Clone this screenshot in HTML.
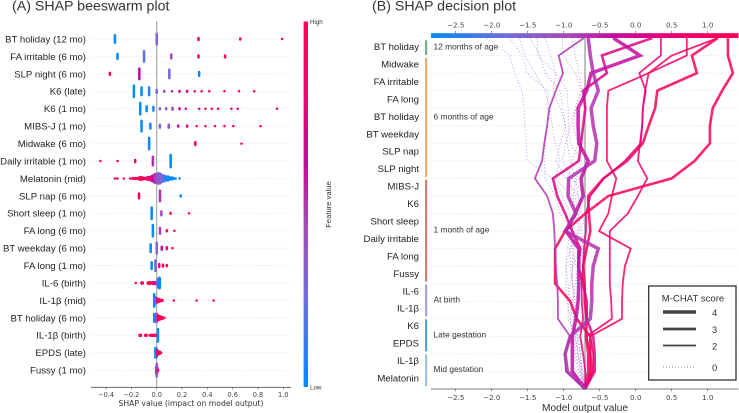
<!DOCTYPE html>
<html lang="en">
<head>
<meta charset="utf-8">
<title>SHAP beeswarm and decision plots</title>
<style>
html,body{margin:0;padding:0;background:#fff;width:739px;height:413px;overflow:hidden}
svg{display:block}
text{font-family:"Liberation Sans",sans-serif;fill:#333}
.tick{font-family:"DejaVu Sans",sans-serif;font-size:6.6px;fill:#444;text-anchor:middle}
.tickr{font-family:"DejaVu Sans",sans-serif;font-size:7.2px;fill:#444;text-anchor:middle}
.axt{font-family:"DejaVu Sans",sans-serif;font-size:7.7px;fill:#333;text-anchor:middle}
.rowl{font-size:9.6px;text-anchor:end;fill:#222}
.grp{font-size:8.4px;fill:#333}
</style>
</head>
<body>
<svg id="chart" xmlns="http://www.w3.org/2000/svg" width="739" height="413" viewBox="0 0 739 413">
  <defs>
    <linearGradient id="gradV" x1="0" y1="1" x2="0" y2="0">
      <stop offset="0" stop-color="#008bfb"/><stop offset=".25" stop-color="#6f6de0"/><stop offset=".45" stop-color="#a848b8"/><stop offset=".6" stop-color="#c30aa0"/><stop offset=".8" stop-color="#f00070"/><stop offset="1" stop-color="#ff0051"/>
    </linearGradient>
    <linearGradient id="gradH" x1="0" y1="0" x2="1" y2="0">
      <stop offset="0" stop-color="#008bfb"/><stop offset=".25" stop-color="#6f6de0"/><stop offset=".45" stop-color="#a848b8"/><stop offset=".6" stop-color="#c30aa0"/><stop offset=".8" stop-color="#f00070"/><stop offset="1" stop-color="#ff0051"/>
    </linearGradient>
  </defs>

  <text x="12" y="10.5" font-size="14.2" fill="#222">(A) SHAP beeswarm plot</text>
  <text x="372" y="10.5" font-size="14.2" fill="#222">(B) SHAP decision plot</text>

  <g id="beeGrid"></g>
  <line x1="156.7" x2="156.7" y1="21" y2="387" stroke="#999" stroke-width="1"/>
  <g id="bee"></g>
  <g id="beeLabels"></g>
  <line x1="91" x2="291" y1="387.3" y2="387.3" stroke="#555" stroke-width=".8"/>
  <g id="beeTicks"></g>
  <text class="axt" x="191" y="406">SHAP value (impact on model output)</text>

  <rect x="303.6" y="21.5" width="4.4" height="365.5" fill="url(#gradV)"/>
  <text x="310" y="24" font-size="6.2" font-family="DejaVu Sans" fill="#333">High</text>
  <text x="310" y="389.5" font-size="6.2" font-family="DejaVu Sans" fill="#333">Low</text>
  <text transform="translate(331,204.5) rotate(-90)" font-size="7.6" font-family="DejaVu Sans" text-anchor="middle" fill="#333">Feature value</text>

  <g id="decGrid"></g>
  <rect x="431" y="33.2" width="307.5" height="4.8" fill="url(#gradH)"/>
  <line x1="585" x2="585" y1="38" y2="389" stroke="#aaa" stroke-width="1.5"/>
  <g id="decDots"></g>
  <g id="decLines"></g>
  <g id="decLabels"></g>
  <g id="stages"></g>
  <line x1="431" x2="738.5" y1="389" y2="389" stroke="#555" stroke-width=".8"/>
  <g id="decTicks"></g>
  <text x="585" y="411" font-family="DejaVu Sans" font-size="10.2" text-anchor="middle" fill="#333">Model output value</text>

  <g>
    <rect x="648.7" y="286" width="87.3" height="94" fill="#fff" stroke="#222" stroke-width="1.2"/>
    <text x="693" y="301.5" font-size="9.6" font-family="DejaVu Sans" text-anchor="middle" fill="#333">M-CHAT score</text>
    <line x1="663" x2="696" y1="312" y2="312" stroke="#444" stroke-width="3.6"/>
    <line x1="663" x2="696" y1="329" y2="329" stroke="#444" stroke-width="2.7"/>
    <line x1="663" x2="696" y1="345.5" y2="345.5" stroke="#444" stroke-width="1.8"/>
    <line x1="663" x2="696" y1="367" y2="367" stroke="#888" stroke-width=".9" stroke-dasharray="1 2"/>
    <text x="712" y="316" font-size="9.4" font-family="DejaVu Sans" fill="#333">4</text>
    <text x="712" y="333" font-size="9.4" font-family="DejaVu Sans" fill="#333">3</text>
    <text x="712" y="349.5" font-size="9.4" font-family="DejaVu Sans" fill="#333">2</text>
    <text x="712" y="371" font-size="9.4" font-family="DejaVu Sans" fill="#333">0</text>
  </g>
</svg>

<script>
const beeLabelsData = ["BT holiday (12 mo)","FA irritable (6 mo)","SLP night (6 mo)","K6 (late)","K6 (1 mo)","MIBS-J (1 mo)","Midwake (6 mo)","Daily irritable (1 mo)","Melatonin (mid)","SLP nap (6 mo)","Short sleep (1 mo)","FA long (6 mo)","BT weekday (6 mo)","FA long (1 mo)","IL-6 (birth)","IL-1\u03b2 (mid)","BT holiday (6 mo)","IL-1\u03b2 (birth)","EPDS (late)","Fussy (1 mo)"];
const beeTickValues = [-0.4,-0.2,0,0.2,0.4,0.6,0.8,1.0];
// each point group: [SHAP value, feature value 0..1, stacked sample count]
const beeGroups = [
[[-.33,0,9],[0,.28,12],[.33,.8,3],[.66,1,2],[.99,1,1]],
[[-.31,0,6],[-.10,.2,12],[.115,.45,5],[.33,.85,3],[.54,1,3]],
[[-.37,.95,3],[-.137,.6,12],[.10,.28,10],[.335,0,5]],
[[-.18,0,13],[-.12,0,9],[-.06,.08,9],[0,.3,4],[.06,.42,2],[.12,.55,1],[.18,.65,2],[.24,.78,2],[.30,.85,1],[.355,.9,1],[.415,.95,1],[.535,1,1],[.65,1,1],[.77,1,1]],
[[-.13,0,13],[-.08,0,6],[-.026,.1,5],[.025,.28,2],[.075,.38,2],[.125,.45,3],[.18,.6,2],[.23,.7,1],[.335,.85,1],[.385,.9,1],[.435,.95,1],[.485,.95,1],[.59,1,1],[.64,1,1],[.95,1,1]],
[[-.12,0,12],[-.05,.05,6],[.025,.28,4],[.095,.4,4],[.17,.58,2],[.24,.72,2],[.315,.85,1],[.385,.9,1],[.46,.95,1],[.535,1,1],[.605,1,1],[.82,1,1]],
[[-.06,.03,13],[.305,.95,4],[.67,1,1]],
[[-.445,1,1],[-.31,1,1],[-.17,1,3],[-.03,.5,10],[.11,0,14]],
[[-.33,1,1],[-.31,1,1],[-.26,1,1],[-.21,1,1],[-.19,1,2],[-.17,1,2],[-.155,1,2],[-.14,.95,3],[-.125,.95,4],[-.11,.95,3],[-.095,.95,2],[-.08,.9,3],[-.065,.85,4],[-.05,.75,4],[-.04,.7,6],[-.025,.6,8],[-.015,.5,10],[0,.4,11],[.015,.35,12],[.03,.3,11],[.045,.25,8],[.06,.15,7],[.075,.08,5],[.09,.03,5],[.105,0,3],[.12,0,3],[.135,0,2],[.15,0,1],[.18,0,1]],
[[-.14,.95,6],[.026,.5,12],[.19,0,2]],
[[-.04,0,13],[.037,.42,5],[.11,.9,2],[.255,1,1]],
[[-.03,0,13],[.026,.48,7],[.08,.85,2],[.14,1,1]],
[[-.048,0,9],[0,.3,12],[.04,.65,4],[.08,.85,3],[.125,1,1]],
[[-.04,0,8],[-.01,.3,12],[.02,.8,4],[.05,.9,3],[.08,1,2]],
[[-.165,1,1],[-.12,1,2],[-.11,1,2],[-.07,.95,2],[-.055,.95,3],[-.045,.9,2],[-.03,.8,3],[-.015,.6,3],[0,.4,4],[.01,.2,10],[.02,.05,12],[.025,0,11]],
[[-.02,0,14],[-.01,.1,8],[.005,.9,5],[.015,1,4],[.025,1,3],[.035,1,2],[.045,1,2],[.135,1,1],[.315,1,1],[.45,1,1]],
[[-.02,0,9],[-.01,.1,9],[0,.4,10],[.01,.8,6],[.02,.95,5],[.03,1,4],[.04,1,3],[.05,1,2],[.06,1,1]],
[[-.135,1,2],[-.125,1,2],[-.09,1,2],[-.08,1,2],[-.055,1,1],[-.045,.95,2],[-.035,.95,2],[-.025,.95,2],[-.015,.9,2],[-.005,.8,2],[.01,.02,14]],
[[-.01,0,11],[0,.15,10],[.005,.9,6],[.015,1,4],[.025,1,3],[.035,1,1]],
[[-.005,.2,8],[0,.35,14],[.005,.5,6],[.01,1,2]]
];

const decLabelsData = ["BT holiday","Midwake","FA irritable","FA long","BT holiday","BT weekday","SLP nap","SLP night","MIBS-J","K6","Short sleep","Daily irritable","FA long","Fussy","IL-6","IL-1\u03b2","K6","EPDS","IL-1\u03b2","Melatonin"];
const decTickValues = [-2.5,-2.0,-1.5,-1.0,-0.5,0,0.5,1.0];
const decScores = [3,3,2,2,2,3,4,4,2];
// model output at each gridline, from the top of the plot to the base value at the bottom
const decSeries = [
[1.28,1.28,1.35,1.20,1.07,1.03,1.03,.82,.50,-.38,-.70,-.98,-1.12,-1.12,-1.12,-.91,-.82,-.63,-.63,-.61,-.70],
[1.14,.78,.85,.30,.27,.18,.10,-.12,-.45,-.66,-.65,-.63,-.68,-.73,-.71,-.71,-.68,-.69,-.66,-.66,-.70],
[1.14,.50,.18,-.38,-.40,-.40,-.40,-.40,-.27,-.33,-.38,-.51,-.07,-.15,-.18,-.19,-.19,-.63,-.59,-.59,-.70],
[.71,.71,.18,.13,.10,.09,.06,.03,.16,.03,-.11,-.36,-.36,-.36,-.36,-.34,-.33,-.68,-.63,-.63,-.70],
[.35,.35,.05,.14,.10,.09,.07,-.15,-.44,-.63,-.69,-.69,-.72,-.73,-.75,-.75,-.73,-.77,-.73,-.70,-.70],
[.23,-.47,-.40,-.73,-.70,-.73,-.76,-.79,-1.15,-1.09,-.98,-.88,-.77,-.80,-.73,-.68,-.68,-.59,-.57,-.57,-.70],
[-.31,.06,-.62,-.68,-.80,-.80,-.79,-.66,-.76,-.73,-.84,-.97,-.79,-.79,-.79,-.80,-.83,-.88,-.88,-.88,-.70],
[-.66,-.63,-.59,-.52,-.62,-.59,-.54,-.57,-.93,-.94,-.83,-.98,-.52,-.59,-.61,-.61,-.63,-.91,-.98,-.95,-.70],
[-.72,-1.07,-1.01,-1.11,-1.20,-1.23,-1.27,-1.30,-1.40,-1.23,-1.15,-1.13,-1.12,-1.11,-1.09,-1.08,-1.08,-.91,-.98,-.97,-.70]
];
const decDotted = [
[-2.07,-1.75,-1.68,-1.58,-1.55,-1.54,-1.52,-1.51,-1.15,-1.02,-.91,-.91,-.95,-.97,-.94,-.91,-.87,-.81,-.77,-.74,-.70],
[-1.75,-1.57,-1.51,-1.22,-1.22,-1.23,-1.25,-1.27,-1.26,-1.12,-1.05,-.88,-.84,-.88,-.88,-.86,-.86,-.84,-.80,-.77,-.70],
[-1.47,-1.33,-1.26,-1.05,-1.01,-.98,-.95,-.91,-.84,-.80,-.77,-.91,-.88,-.83,-.82,-.80,-.80,-.77,-.76,-.75,-.70],
[-1.26,-1.18,-1.11,-.95,-.94,-.93,-.91,-.75,-.82,-.87,-.84,-.80,-.87,-.88,-.87,-.84,-.82,-.80,-.77,-.76,-.70],
[-.88,-.84,-.79,-.75,-.83,-.87,-.80,-.88,-.95,-.84,-.80,-.75,-.73,-.80,-.84,-.88,-.91,-.84,-.80,-.77,-.70],
[-1.37,-1.36,-1.11,-1.15,-1.05,-.97,-1.05,-1.11,-.97,-.79,-.75,-.69,-.77,-.87,-.91,-.94,-.94,-.81,-.81,-.73,-.70],
[-1.02,-1.01,-.84,-.76,-.84,-.91,-.97,-1.02,-.88,-.70,-.63,-.80,-.91,-.91,-.88,-.84,-.84,-.86,-.83,-.79,-.70],
[-1.61,-1.54,-1.40,-1.26,-1.19,-1.16,-1.12,-1.05,-1.12,-.88,-.83,-.77,-.91,-.97,-.97,-.95,-.91,-.88,-.85,-.80,-.70]
];
const stageNames = ["12 months of age","6 months of age","1 month of age","At birth","Late gestation","Mid gestation"];
const stageFirstRow = [0,1,8,14,16,18];
const stageLastRow = [0,7,13,15,17,19];
const stageColors = ["#6fb08f","#e8ad72","#cf7f74","#a9a5d8","#5ba0d0","#9fc4d8"];

const NS = "http://www.w3.org/2000/svg";
const gradStops = [[0,[0,139,251]],[.25,[111,109,224]],[.45,[168,72,184]],[.6,[195,10,160]],[.8,[240,0,112]],[1,[255,0,81]]];
function mapColor(t){
  t = Math.max(0, Math.min(1, t));
  for (let i = 1; i < gradStops.length; i++) {
    if (t <= gradStops[i][0]) {
      const a = gradStops[i-1], b = gradStops[i];
      const f = (t - a[0]) / (b[0] - a[0]);
      const c = a[1].map((v, k) => Math.round(v + (b[1][k] - v) * f));
      return "rgb(" + c.join(",") + ")";
    }
  }
  return "rgb(255,0,81)";
}
function mk(tag, parent, attrs){
  const el = document.createElementNS(NS, tag);
  for (const k in attrs) el.setAttribute(k, attrs[k]);
  parent.appendChild(el);
  return el;
}
const byId = id => document.getElementById(id);

// axis functions
const beeX = v => 156.7 + v * 126.6;
const beeY = i => 39 + i * 17.43;
const decX = v => 635.7 + v * 72;
const decGridY = i => 38 + i * 17.55;
const decLabelY = i => 46.7 + i * 17.44;
const decColorT = v => (decX(v) - 431) / 307.5;

beeLabelsData.forEach((name, i) => {
  const g = mk("line", byId("beeGrid"), {x1:91, x2:291, y1:beeY(i), y2:beeY(i), stroke:"#ddd", "stroke-width":.7, "stroke-dasharray":"1 1.5"});
  
  
  const t = mk("text", byId("beeLabels"), {x:86, y:beeY(i) + 3.4, class:"rowl"});
  t.textContent = name;
  
  
  beeGroups[i].forEach(gr => {
    const n = gr[2];
    for (let k = 0; k < n; k++) {
      const c = mk("circle", byId("bee"), {cx:beeX(gr[0]), cy:beeY(i) + (k - (n - 1) / 2) * 0.95, r:1.25, fill:mapColor(gr[1])});
      
      
    }
  });
});
beeTickValues.forEach(v => {
  const l = mk("line", byId("beeTicks"), {x1:beeX(v), x2:beeX(v), y1:387.3, y2:389.5, stroke:"#555", "stroke-width":.6});
  
  
  const t = mk("text", byId("beeTicks"), {x:beeX(v), y:397, class:"tick"});
  t.textContent = (v < 0 ? "\u2212" : "") + Math.abs(v).toFixed(1);
  
  
});

for (let i = 1; i < 21; i++) {
  const g = mk("line", byId("decGrid"), {x1:431, x2:738.5, y1:decGridY(i), y2:decGridY(i), stroke:"#ddd", "stroke-width":.7, "stroke-dasharray":"1 1.5"});
  
  
}
decLabelsData.forEach((name, i) => {
  const t = mk("text", byId("decLabels"), {x:419, y:decLabelY(i) + 3.4, class:"rowl"});
  t.textContent = name;
  
  
});
stageNames.forEach((name, i) => {
  const y0 = decLabelY(stageFirstRow[i]) - 6.4;
  const y1 = decLabelY(stageLastRow[i]) + 8.2;
  const r = mk("rect", byId("stages"), {x:425, y:y0, width:2.2, height:y1 - y0, fill:stageColors[i]});
  
  
  const ym = (decLabelY(stageFirstRow[i]) + decLabelY(stageLastRow[i])) / 2;
  const t = mk("text", byId("stages"), {x:433.5, y:ym + 2.8, class:"grp"});
  t.textContent = name;
  
  
});
function pts(s){ return s.map((v, i) => decX(v).toFixed(1) + "," + decGridY(i).toFixed(1)).join(" "); }
decDotted.forEach(s => {
  const p = mk("polyline", byId("decDots"), {points:pts(s), fill:"none", stroke:mapColor(decColorT(s[0])), "stroke-width":.9, "stroke-dasharray":"1 2.2", opacity:.65});
  
  
});
const scoreWidth = {2:1.8, 3:2.6, 4:3.5};
decSeries.forEach((s, i) => {
  const p = mk("polyline", byId("decLines"), {points:pts(s), fill:"none", stroke:mapColor(decColorT(s[0])), "stroke-width":scoreWidth[decScores[i]], opacity:.85, "stroke-linejoin":"miter"});
  
  
});
decTickValues.forEach(v => {
  const a = mk("line", byId("decTicks"), {x1:decX(v), x2:decX(v), y1:389, y2:391.2, stroke:"#555", "stroke-width":.6});
  
  
  const b = mk("line", byId("decTicks"), {x1:decX(v), x2:decX(v), y1:30.8, y2:33.2, stroke:"#555", "stroke-width":.6});
  
  
  const label = (v < 0 ? "\u2212" : "") + Math.abs(v).toFixed(1);
  const t1 = mk("text", byId("decTicks"), {x:decX(v), y:400, class:"tickr"});
  t1.textContent = label;
  
  
  const t2 = mk("text", byId("decTicks"), {x:decX(v), y:27.5, class:"tickr"});
  t2.textContent = label;
  
  
});
</script>
</body>
</html>
